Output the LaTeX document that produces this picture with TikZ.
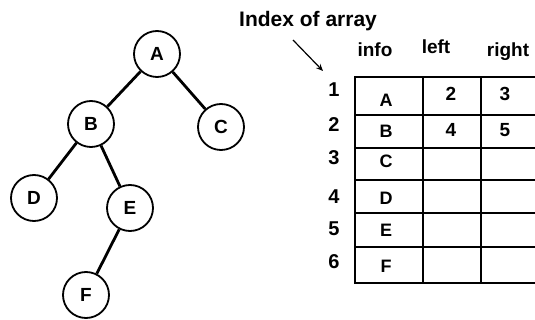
\documentclass[tikz,border=0pt]{standalone}
\usepackage{fontspec}
\setmainfont{Liberation Sans}
\usetikzlibrary{arrows.meta}
\begin{document}
\begin{tikzpicture}[x=1pt,y=-1pt,
  treenode/.style={circle,draw,line width=1.8pt,minimum size=46pt,inner sep=0pt,font=\bfseries\fontsize{19}{19}\selectfont},
  treeedge/.style={line width=2.8pt},
  caption/.style={font=\bfseries\fontsize{21}{21}\selectfont,inner sep=0pt},
  header/.style={font=\bfseries\fontsize{19}{19}\selectfont,inner sep=0pt},
  rownum/.style={font=\bfseries\fontsize{20}{20}\selectfont,inner sep=0pt},
  cellletter/.style={font=\bfseries\fontsize{18}{18}\selectfont,inner sep=0pt},
  celldigit/.style={font=\bfseries\fontsize{19}{19}\selectfont,inner sep=0pt},
  rowline/.style={line width=1.3pt},
  colline/.style={line width=2.4pt}]
\useasboundingbox (0,0) rectangle (535,320);

% binary tree
\node[treenode] (A) at (157,54)  {A};
\node[treenode] (B) at (91,124)  {B};
\node[treenode] (C) at (221,127) {C};
\node[treenode] (D) at (34,198)  {D};
\node[treenode] (E) at (130,208) {E};
\node[treenode] (F) at (86,295)  {F};
\draw[treeedge] (A) -- (B);
\draw[treeedge] (A) -- (C);
\draw[treeedge] (B) -- (D);
\draw[treeedge] (B) -- (E);
\draw[treeedge] (E) -- (F);

% caption and pointer
\node[caption,anchor=base west] (idx) at (239,27) {Index of array};
\coordinate (arrS) at (293,40);
\coordinate (arrE) at (323,71);
\draw[line width=1.2pt,-{Stealth[length=7pt,width=6pt]}] (arrS) -- (arrE);

% column headers
\node[header,anchor=base] (hinfo)  at (375,57) {info};
\node[header,anchor=base] (hleft)  at (436,54) {left};
\node[header,anchor=base] (hright) at (508,57) {right};

% array grid (right side runs past the page edge)
\begin{scope}
\clip (0,0) rectangle (535,320);
\foreach \y in {115,148,180,213,247} \draw[rowline] (355,\y) -- (545,\y);
\draw[line width=1.8pt] (545,77) -- (355,77) -- (355,283) -- (545,283);
\draw[colline] (423,77) -- (423,283);
\draw[colline] (481,77) -- (481,283);
\end{scope}

% row indices
\node[rownum] (r1) at (334,90)  {1};
\node[rownum] (r2) at (334,125) {2};
\node[rownum] (r3) at (334,158) {3};
\node[rownum] (r4) at (334,197) {4};
\node[rownum] (r5) at (334,229) {5};
\node[rownum] (r6) at (334,262) {6};

% info column
\node[cellletter] (iA) at (386,100) {A};
\node[cellletter] (iB) at (386,131) {B};
\node[cellletter] (iC) at (386,161) {C};
\node[cellletter] (iD) at (386,198) {D};
\node[cellletter] (iE) at (386,230) {E};
\node[cellletter] (iF) at (386,266) {F};

% left / right links
\node[celldigit] (l1) at (451,94)  {2};
\node[celldigit] (g1) at (505,94)  {3};
\node[celldigit] (l2) at (451,130) {4};
\node[celldigit] (g2) at (505,130) {5};
\end{tikzpicture}
\end{document}
